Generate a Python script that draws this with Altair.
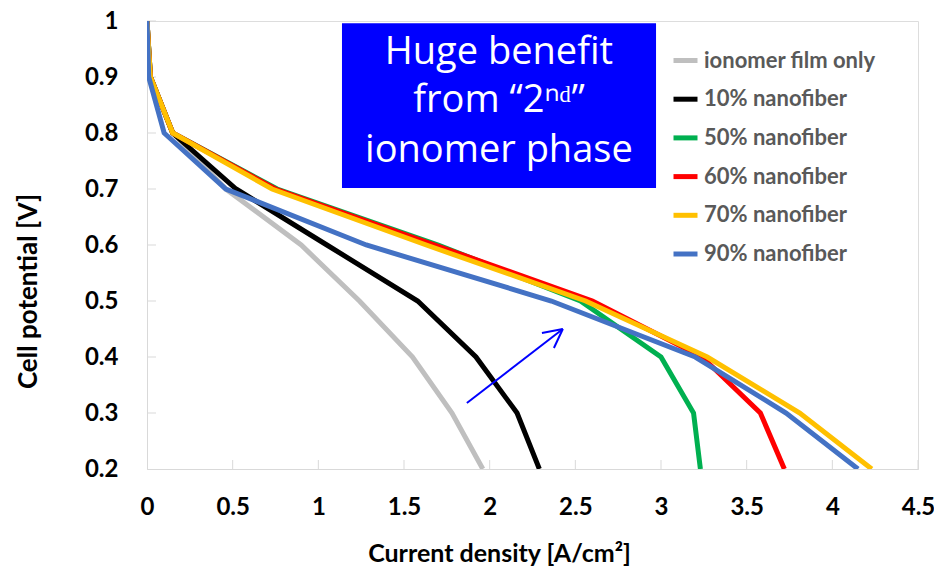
import altair as alt
import pandas as pd

# ---------------- data ----------------
series_names = ["ionomer film only", "10% nanofiber", "50% nanofiber",
                "60% nanofiber", "70% nanofiber", "90% nanofiber"]
series_colors = ["#bfbfbf", "#000000", "#00b050", "#ff0000", "#ffc000", "#4472c4"]

potential = [1.0, 0.9, 0.8, 0.7, 0.6, 0.5, 0.4, 0.3, 0.2]
cur_film = [0.0, 0.02, 0.15, 0.46, 0.90, 1.24, 1.55, 1.78, 1.96]
cur_10 = [0.0, 0.02, 0.15, 0.52, 1.05, 1.58, 1.92, 2.16, 2.29]
cur_50 = [0.0, 0.02, 0.15, 0.76, 1.70, 2.53, 3.00, 3.19, 3.23]
cur_60 = [0.0, 0.02, 0.15, 0.75, 1.68, 2.60, 3.24, 3.58, 3.72]
cur_70 = [0.0, 0.02, 0.15, 0.73, 1.63, 2.56, 3.27, 3.81, 4.23]
cur_90 = [0.0, 0.01, 0.10, 0.46, 1.28, 2.36, 3.20, 3.73, 4.15]
currents = [cur_film, cur_10, cur_50, cur_60, cur_70, cur_90]

x_ticks = [0, 0.5, 1, 1.5, 2, 2.5, 3, 3.5, 4, 4.5]
y_ticks = [0.2, 0.3, 0.4, 0.5, 0.6, 0.7, 0.8, 0.9, 1.0]

# annotation (data coordinates)
box_x = [1.138]
box_x2 = [2.971]
box_y = [0.996]
box_y2 = [0.702]
box_lines = ["Huge benefit", "from \u201c2\u207f\u1d48\u201d", "ionomer phase"]
box_line_x = [2.054, 2.054, 2.054]
box_line_y = [0.943, 0.857, 0.768]
arrow_x = [1.867, 2.305, 2.375]
arrow_y = [0.318, 0.443, 0.416]
arrow_x2 = [2.427, 2.427, 2.427]
arrow_y2 = [0.450, 0.450, 0.450]

# --------------- tables ---------------
rows = []
for name, xs in zip(series_names, currents):
    for i, (c, v) in enumerate(zip(xs, potential)):
        rows.append({"series": name, "current": c, "potential": v, "idx": i})
df = pd.DataFrame(rows)

W, H = 771, 448
FONT = "Lato"

xscale = alt.Scale(domain=[0, 4.5], nice=False, zero=False)
yscale = alt.Scale(domain=[0.2, 1.0], nice=False, zero=False)

lines = alt.Chart(df).mark_line(strokeWidth=5, strokeJoin="miter", clip=True).encode(
    x=alt.X("current:Q", scale=xscale,
            axis=alt.Axis(values=x_ticks, format="~g", title="Current density [A/cm\u00b2]",
                          grid=False, tickSize=0, domainColor="#d9d9d9", domainWidth=1,
                          labelFont=FONT, labelFontSize=24, labelFontWeight="bold",
                          labelColor="#000000", labelPadding=26, labelFlush=False,
                          titleFont=FONT, titleFontSize=25, titleFontWeight="bold",
                          titleColor="#000000", titleX=352, titleY=84,
                          titleBaseline="middle", titleAlign="center")),
    y=alt.Y("potential:Q", scale=yscale,
            axis=alt.Axis(values=y_ticks, format="~g", title="Cell potential [V]",
                          grid=False, tickSize=0, domainColor="#d9d9d9", domainWidth=1,
                          labelFont=FONT, labelFontSize=24, labelFontWeight="bold",
                          labelColor="#000000", labelPadding=29, labelFlush=False,
                          titleFont=FONT, titleFontSize=26, titleFontWeight="bold",
                          titleColor="#000000", titleX=-119, titleY=270, titleAngle=270,
                          titleBaseline="middle", titleAlign="center")),
    color=alt.Color("series:N",
                    scale=alt.Scale(domain=series_names, range=series_colors),
                    sort=series_names,
                    legend=alt.Legend(title=None, orient="none", legendX=524, legendY=25,
                                      symbolType="stroke", symbolStrokeWidth=5,
                                      symbolSize=576, labelFont=FONT, labelFontSize=22,
                                      labelFontWeight="bold", labelColor="#595959",
                                      labelLimit=400, labelOffset=4, rowPadding=12.7,
                                      padding=0)),
    order="idx:Q",
)

xt = pd.DataFrame({"v": x_ticks[1:]})
x_tick_marks = alt.Chart(xt).mark_rule(color="#d9d9d9", strokeWidth=1).encode(
    x=alt.X("v:Q", scale=xscale), y=alt.value(H), y2=alt.value(H - 9))
yt = pd.DataFrame({"v": y_ticks[1:]})
y_tick_marks = alt.Chart(yt).mark_rule(color="#d9d9d9", strokeWidth=1).encode(
    y=alt.Y("v:Q", scale=yscale), x=alt.value(0), x2=alt.value(9))

box_df = pd.DataFrame({"x": box_x, "x2": box_x2, "y": box_y, "y2": box_y2})
box = alt.Chart(box_df).mark_rect(color="#0000ff").encode(
    x=alt.X("x:Q", scale=xscale), x2="x2:Q",
    y=alt.Y("y:Q", scale=yscale), y2="y2:Q")

txt_df = pd.DataFrame({"t": box_lines, "x": box_line_x, "y": box_line_y})
box_text = alt.Chart(txt_df).mark_text(font="Open Sans", fontSize=38, color="#ffffff",
                                       align="center", baseline="middle").encode(
    x=alt.X("x:Q", scale=xscale), y=alt.Y("y:Q", scale=yscale), text="t:N")

arr_df = pd.DataFrame({"x": arrow_x, "y": arrow_y, "x2": arrow_x2, "y2": arrow_y2})
arrow = alt.Chart(arr_df).mark_rule(color="#0000ff", strokeWidth=2).encode(
    x=alt.X("x:Q", scale=xscale), y=alt.Y("y:Q", scale=yscale), x2="x2:Q", y2="y2:Q")

chart = alt.layer(x_tick_marks, y_tick_marks, lines, box, box_text, arrow).properties(
    width=W, height=H,
    autosize=alt.AutoSizeParams(type="none"),
    padding={"left": 139, "top": 13, "right": 16, "bottom": 98},
).configure_view(stroke="#d9d9d9", strokeWidth=1).configure(background="#ffffff")

chart.save("out.html", embed_options={"renderer": "svg", "actions": False})
